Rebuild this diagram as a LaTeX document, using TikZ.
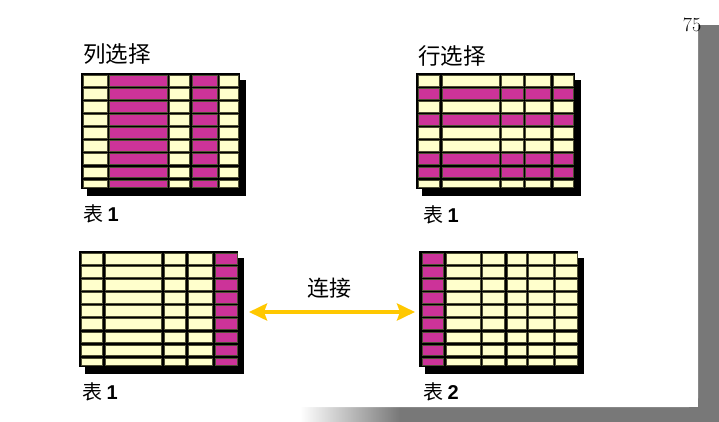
\documentclass[tikz,border=0pt]{standalone}
\usepackage{fontspec}
\newfontfamily\cjk{Noto Sans CJK SC}
\newfontfamily\arial{Liberation Sans}
\usetikzlibrary{arrows.meta,shadows}
\definecolor{cy}{HTML}{FFFFCC}
\definecolor{cm}{HTML}{CC3399}
\definecolor{celledge}{HTML}{4D4D33}
\definecolor{sh}{HTML}{787878}
\definecolor{gold}{HTML}{FFC800}
\tikzset{
  tblbox/.style={fill=black, inner sep=0pt, outer sep=0pt, anchor=north west,
    minimum width=159pt, minimum height=116pt,
    drop shadow={shadow xshift=6pt, shadow yshift=-7pt, fill=black, opacity=1}},
  cellbox/.style={draw=celledge, line width=0.6pt},
  title/.style={inner sep=0pt, anchor=west, font=\cjk\fontsize{22.5}{22.5}\selectfont},
  tlabel/.style={inner sep=0pt, anchor=west, font=\fontsize{20}{20}\selectfont},
  joinarrow/.style={draw=gold, line width=4pt,
    {Stealth[length=18pt,width=17pt,inset=3pt]}-{Stealth[length=18pt,width=17pt,inset=3pt]}},
}
% #1 top of table, #2 column list a/b/colour, #3 row indices
\newcommand\cellgrid[3]{%
  \foreach \ca/\cb/\cc in {#2}{%
    \foreach \ri in {#3}{%
      \pgfmathsetmacro\rt{#1+2.5+13.05*\ri}%
      \pgfmathsetmacro\rb{min(\rt+10.5,#1+114.5)}%
      \filldraw[cellbox, fill=\cc] (\ca,\rt) rectangle (\cb,\rb);
    }}}
\begin{document}
\begin{tikzpicture}[x=1pt,y=-1pt]
\useasboundingbox (0,0) rectangle (719,422);
% page and its shadow
\fill[white] (0,0) rectangle (719,422);
\shade[left color=white, right color=sh] (300,407) rectangle (400,422);
\fill[sh] (399.5,407) rectangle (719,422);
\fill[sh] (698,25) rectangle (719,422);
\fill[white] (0,0) -- (698,0) -- (698,398) .. controls (698,405) and (696,407) .. (689,407) -- (0,407) -- cycle;
\node[inner sep=0pt, font=\fontsize{20}{20}\selectfont] (pg) at (692,25) {75};

% top-left: column selection
\node[title] (t1) at (83,54) {列选择};
\node[tblbox] (tl) at (81,73) {};
\cellgrid{73}{83/107/cy,109/167/cm,169/189/cy,192/217/cm,219/238/cy}{0,...,8}
\node[tlabel] (l1) at (83,214) {\cjk 表 \arial\bfseries 1};

% top-right: row selection
\node[title] (t2) at (418,56) {行选择};
\node[tblbox] (tr) at (416,73) {};
\cellgrid{73}{418.5/439/cy,442/499/cy,501.5/523/cy,525.5/550/cy,553/573.5/cy}{0,2,4,5,8}
\cellgrid{73}{418.5/439/cm,442/499/cm,501.5/523/cm,525.5/550/cm,553/573.5/cm}{1,3,6,7}
\node[tlabel] (l2) at (423,215) {\cjk 表 \arial\bfseries 1};

% bottom-left: table 1
\node[tblbox] (bl) at (79,251) {};
\cellgrid{251}{81/102/cy,105/161/cy,164/185/cy,188/212/cy,215/237/cm}{0,...,8}
\node[tlabel] (l3) at (82,391.5) {\cjk 表 \arial\bfseries 1};

% bottom-right: table 2
\node[tblbox] (br) at (419,251) {};
\cellgrid{251}{422/443/cm,446/480/cy,482/504/cy,507/526/cy,528/553/cy,555/577/cy}{0,...,8}
\node[tlabel] (l4) at (423,391.5) {\cjk 表 \arial\bfseries 2};

% join
\node[inner sep=0pt, font=\cjk\fontsize{22}{22}\selectfont] (jn) at (329,288) {连接};
\draw[joinarrow] ([shift={(11,3)}]bl.east) -- ([shift={(-4,3)}]br.west);
\end{tikzpicture}
\end{document}
